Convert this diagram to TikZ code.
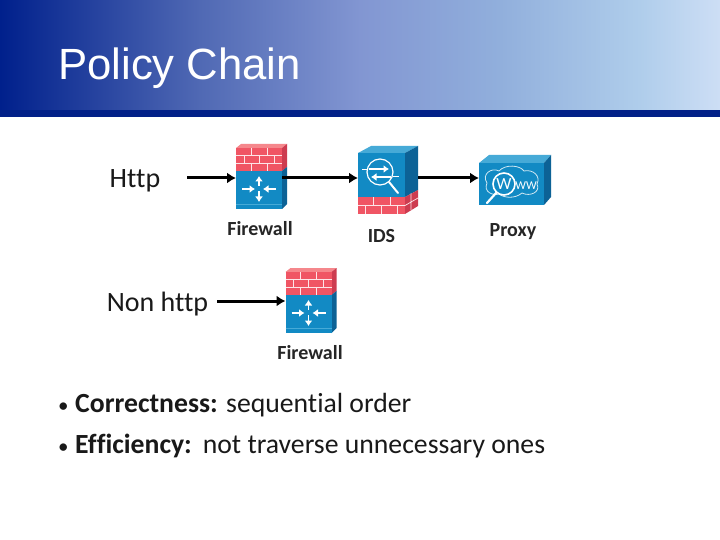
\documentclass[tikz,border=0pt]{standalone}
\usepackage{fontspec}
\setmainfont[Ligatures={NoCommon,NoRequired,NoContextual}]{Carlito}
\newfontfamily\titlefont{Liberation Sans}
\usetikzlibrary{arrows.meta}
\definecolor{blueface}{RGB}{18,138,196}
\definecolor{blueside}{RGB}{12,98,150}
\definecolor{bluetop}{RGB}{70,170,215}
\definecolor{redface}{RGB}{240,85,100}
\definecolor{redside}{RGB}{205,60,80}
\definecolor{redtop}{RGB}{245,135,140}
\definecolor{barblue}{RGB}{2,32,136}
\definecolor{c0}{RGB}{0,32,140}
\definecolor{c1}{RGB}{80,105,180}
\definecolor{c2}{RGB}{130,150,210}
\definecolor{c3}{RGB}{145,175,220}
\definecolor{c4}{RGB}{175,205,235}
\definecolor{c5}{RGB}{205,222,245}
\pgfdeclarehorizontalshading{bandg}{100bp}{color(0bp)=(c0); color(25bp)=(c0); color(38.9bp)=(c1); color(50bp)=(c2); color(59.7bp)=(c3); color(69.4bp)=(c4); color(75bp)=(c5); color(100bp)=(c5)}
\tikzset{
  icon/.style={minimum width=#1,inner sep=0pt,outer sep=0pt},
  flow/.style={line width=3pt,-{Latex[length=9pt,width=11pt]}},
  lab/.style={font=\bfseries\fontsize{20}{22}\selectfont,text=black!85,inner sep=0pt},
  big/.style={font=\fontsize{28}{32}\selectfont,text=black!90,inner sep=0pt},
  bul/.style={font=\fontsize{27.7}{32}\selectfont,text=black!90,inner sep=0pt,anchor=base west},
  brick/.style={white!85!redface,line width=0.7pt},
  tip/.style={white,line width=1.8pt,-{Latex[length=5.5pt,width=8pt]}}
}
\newcommand{\fwicon}[2]{%
\begin{scope}[shift={(#1,#2)}]
  \fill[redtop] (0,0)--(5,-4)--(51,-4)--(46,0)--cycle;
  \fill[redside] (46,0)--(51,-4)--(51,19)--(46,23)--cycle;
  \fill[blueside] (46,23)--(51,19)--(51,56)--(46,61)--cycle;
  \fill[redface] (0,0) rectangle (46,23);
  \fill[blueface] (0,23) rectangle (46,61);
  \draw[brick] (0,7.5)--(46,7.5) (0,15)--(46,15) (15,0)--(15,7.5) (31,0)--(31,7.5) (8,7.5)--(8,15) (23,7.5)--(23,15) (38,7.5)--(38,15) (15,15)--(15,23) (31,15)--(31,23);
  \draw[line width=0.6pt,bluetop] (0,56)--(46,56);
  \draw[tip] (23,38)--(23,28);
  \draw[tip] (23,43)--(23,54);
  \draw[tip] (6,41)--(19,41);
  \draw[tip] (40,41)--(27,41);
\end{scope}}
\begin{document}
\begin{tikzpicture}[x=1pt,y=-1pt]
\useasboundingbox (0,0) rectangle (720,540);
\fill[white] (0,0) rectangle (720,540);
\shade[shading=bandg] (0,0) rectangle (720,110);
\fill[barblue] (0,110) rectangle (720,117);
\node[anchor=base west,inner sep=0pt,text=white,font=\titlefont\fontsize{43.7}{48}\selectfont] (title) at (58,80) {Policy Chain};

% firewall 1
\fwicon{236}{148}
\node[icon=46pt,minimum height=61pt] (fw1) at (259,178.5) {};
% IDS
\fill[bluetop] (358,153)--(371,146)--(418,146)--(405,153)--cycle;
\fill[blueside] (405,153)--(418,146)--(418,190)--(405,197)--cycle;
\fill[redside] (405,197)--(418,190)--(418,206)--(405,214)--cycle;
\fill[blueface] (358,153) rectangle (405,197);
\fill[redface] (358,197) rectangle (405,214);
\draw[brick] (358,205.5)--(405,205.5) (373,197)--(373,205.5) (390,197)--(390,205.5) (365,205.5)--(365,214) (381,205.5)--(381,214) (397,205.5)--(397,214);
\draw[brick] (405,205.5)--(418,198) (411,193.5)--(411,210);
\draw[white,line width=1.2pt] (380,172) circle (13);
\draw[white,line width=2pt,line cap=round] (389,182)--(398,193);
\draw[white,line width=1pt] (362,170)--(367,170) (393,177)--(399,177);
\draw[tip,line width=1.1pt] (369,169)--(389,169);
\draw[tip,line width=1.1pt] (391,177)--(371,177);
\node[icon=47pt,minimum height=61pt] (ids) at (381.5,178) {};
% Proxy
\fill[bluetop] (479,163)--(489,155)--(551,155)--(544,163)--cycle;
\fill[blueside] (544,163)--(551,155)--(551,197)--(544,205)--cycle;
\fill[blueface] (479,163) rectangle (544,205);
\draw[white!80!blueface,line width=0.8pt] (487,183) .. controls (481,174) and (492,167) .. (499,171)
  .. controls (505,164) and (520,165) .. (524,171) .. controls (533,169) and (541,176) .. (537,184)
  .. controls (541,192) and (530,197) .. (522,193) .. controls (515,199) and (504,198) .. (499,194)
  .. controls (493,196) and (483,192) .. (487,183) -- cycle;
\draw[white,line width=1.6pt] (504,184) circle (11);
\draw[white,line width=2.2pt,line cap=round] (496,193)--(487,203);
\node[text=white,inner sep=0pt,font=\fontsize{17}{17}\selectfont] (w1) at (504,184) {W};
\node[text=white,inner sep=0pt,font=\fontsize{12}{12}\selectfont] (w2) at (526,186) {WW};
\node[icon=65pt,minimum height=42pt] (proxy) at (511.5,184) {};
% firewall 2
\fwicon{285.5}{272}
\node[icon=46pt,minimum height=61pt] (fw2) at (308.5,302.5) {};

\node[big,anchor=center] (http) at (135,180.5) {Http};
\node[big,anchor=center] (nonhttp) at (157.5,304) {Non http};
\coordinate (hs) at (187,178);
\coordinate (ns) at (217,301);
\draw[flow] (hs) -- (hs -| fw1.west);
\draw[flow] (hs -| fw1.east) -- (hs -| ids.west);
\draw[flow] (hs -| 418,0) -- (hs -| proxy.west);
\draw[flow] (ns) -- (ns -| fw2.west);

\node[lab] (l1) at (260,229) {Firewall};
\node[lab] (l2) at (381.5,236) {IDS};
\node[lab] (l3) at (513,231.5) {Proxy};
\node[lab] (l4) at (310,352.5) {Firewall};

\node[bul] (b1) at (58,412) {\makebox[17pt][l]{\fontsize{21}{21}\selectfont•}\textbf{Correctness:} sequential order};
\node[bul] (b2) at (58,453) {\makebox[17pt][l]{\fontsize{21}{21}\selectfont•}\textbf{Efficiency:}\hspace{11pt}not traverse unnecessary ones};
\end{tikzpicture}
\end{document}
